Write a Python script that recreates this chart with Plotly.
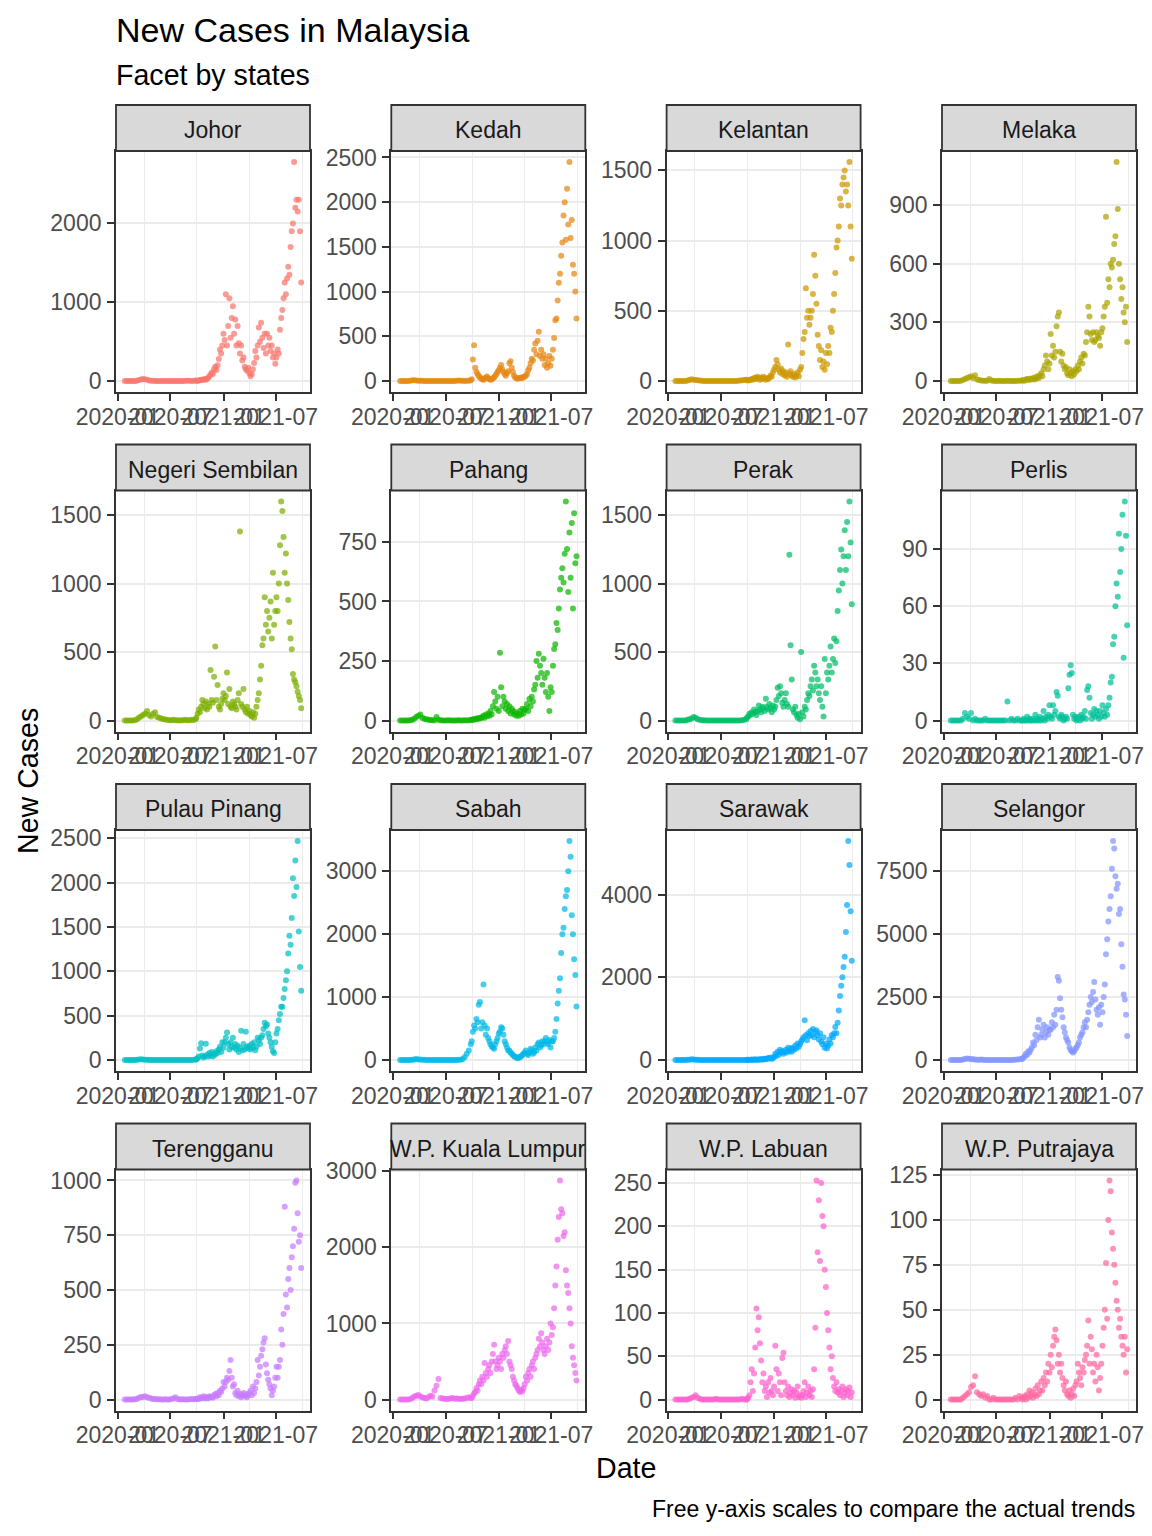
import pandas as pd
import plotly.graph_objects as go

# ---------------- data ----------------
states = ["Johor", "Kedah", "Kelantan", "Melaka",
          "Negeri Sembilan", "Pahang", "Perak", "Perlis",
          "Pulau Pinang", "Sabah", "Sarawak", "Selangor",
          "Terengganu", "W.P. Kuala Lumpur", "W.P. Labuan", "W.P. Putrajaya"]

colors = ["#F8766D", "#E68613", "#CD9600", "#ABA300", "#7CAE00", "#0CB702",
          "#00BE67", "#00C19A", "#00BFC4", "#00B8E7", "#00A9FF", "#8494FF",
          "#C77CFF", "#ED68ED", "#FF61CC", "#FF68A1"]

# sample dates: weekly through Sep 2020, then ~every 4 days to the end
dates_early = pd.date_range("2020-01-25", periods=36, freq="7D")
dates_late = pd.date_range("2020-09-29", "2021-09-27", periods=90)

# each list: 36 weekly values (2020) followed by 90 values (Oct 2020 - Sep 2021)
johor = [0, 0, 1, 0, 0, 2, 5, 12, 20, 25, 22, 15, 8, 5, 3, 2, 1, 1, 0, 0, 1, 0, 0, 1, 0, 2, 1, 0, 1, 2, 3, 5, 3, 2, 5, 8,
         5, 3, 8, 10, 15, 12, 20, 25,
         18, 30, 40, 60, 80, 110, 90, 150,
         180, 140, 200, 280, 400, 350, 450, 600,
         520, 1100, 450, 700, 1050, 550, 800, 950,
         600, 780, 450, 700, 480, 350, 450,
         260, 300, 180, 150, 130, 170, 100,
         60, 90, 150, 230, 380, 300, 450, 680,
         500, 740, 550, 420, 600, 350, 600, 450,
         550, 380, 450, 300, 350, 220, 300,
         400, 350, 650, 800, 900, 1050, 1250, 1100,
         1300, 1450, 1350, 1700, 1900, 2000, 2780, 2200,
         2300, 2150, 2300, 1900, 1250]

kedah = [0, 0, 0, 0, 1, 3, 8, 10, 5, 4, 3, 2, 1, 1, 0, 0, 0, 0, 0, 1, 0, 0, 1, 0, 0, 1, 0, 0, 2, 5, 3, 2, 1, 2, 4, 10,
         20, 240, 400, 150, 100, 80, 60, 40,
         30, 20, 15, 25, 40, 50, 30, 20,
         15, 20, 30, 40, 60, 80, 100, 120,
         150, 180, 130, 100, 80, 60, 90, 110,
         200, 220, 150, 100, 60, 40, 30,
         25, 35, 30, 40, 30, 45, 50,
         60, 80, 120, 150, 200, 250, 230, 350,
         420, 300, 450, 550, 280, 350, 250, 300,
         180, 250, 150, 200, 280, 170, 250,
         350, 480, 680, 700, 900, 1100, 1200, 1400,
         1550, 1850, 2000, 1580, 2150, 1750, 2450, 1600,
         1800, 1300, 1200, 1000, 700]

kelantan = [0, 0, 0, 0, 0, 1, 3, 8, 12, 10, 8, 5, 3, 2, 1, 1, 0, 0, 0, 1, 0, 0, 0, 1, 0, 0, 0, 0, 1, 0, 0, 2, 3, 5, 8, 10,
            5, 3, 8, 10, 15, 10, 20, 25,
            15, 30, 20, 10, 25, 15, 30, 20,
            10, 20, 15, 25, 40, 30, 60, 80,
            100, 150, 120, 80, 60, 90, 50, 70,
            40, 60, 30, 260, 50, 70, 40,
            30, 50, 25, 40, 60, 35, 80,
            100, 200, 300, 350, 660, 450, 500, 400,
            450, 500, 620, 900, 750, 550, 330, 250,
            150, 220, 100, 140, 80, 200, 120,
            250, 200, 380, 350, 500, 620, 770, 950,
            1000, 1100, 1300, 1250, 1400, 1450, 1500, 1350,
            1400, 1250, 1560, 1100, 870]

melaka = [0, 0, 0, 0, 0, 2, 5, 10, 15, 20, 25, 15, 30, 8, 5, 3, 2, 2, 1, 10, 3, 1, 0, 0, 1, 0, 0, 0, 1, 0, 0, 0, 0, 1, 2, 3,
          3, 5, 2, 8, 10, 5, 12, 8,
          10, 15, 8, 20, 12, 25, 15, 30,
          40, 25, 60, 80, 130, 100, 60, 90,
          240, 130, 180, 120, 150, 280, 330, 350,
          150, 100, 140, 80, 60, 70, 40,
          30, 60, 40, 25, 50, 35, 60,
          50, 80, 60, 100, 120, 90, 140, 130,
          200, 250, 380, 330, 240, 210, 250, 200,
          210, 250, 230, 220, 180, 250, 270,
          330, 380, 840, 400, 520, 480, 600, 580,
          620, 700, 740, 1120, 880, 600, 520, 420,
          480, 350, 300, 380, 200]

negeri_sembilan = [0, 0, 0, 0, 1, 3, 10, 20, 30, 40, 50, 70, 40, 30, 50, 60, 25, 20, 15, 10, 8, 5, 3, 2, 5, 3, 2, 1, 2, 3, 5, 3, 2, 5, 4, 10,
                   20, 50, 80, 60, 100, 150, 120, 90,
                   140, 80, 120, 100, 370, 150, 130, 320,
                   540, 150, 260, 100, 80, 120, 160, 200,
                   150, 180, 350, 120, 230, 100, 90, 140,
                   120, 100, 80, 150, 200, 1380, 120,
                   100, 230, 80, 60, 100, 50, 70,
                   40, 30, 60, 20, 50, 100, 150, 200,
                   300, 400, 550, 600, 900, 700, 800, 650,
                   750, 870, 600, 1080, 700, 800, 900,
                   800, 1000, 1280, 1600, 1530, 1340, 1080, 1220,
                   1000, 880, 720, 600, 520, 340, 300, 280,
                   250, 210, 180, 150, 90]

pahang = [0, 0, 0, 0, 0, 1, 3, 8, 15, 20, 25, 12, 8, 5, 3, 2, 1, 1, 15, 3, 1, 0, 0, 0, 1, 0, 0, 0, 0, 1, 0, 0, 1, 0, 1, 2,
          2, 5, 3, 8, 5, 10, 8, 12,
          10, 15, 20, 12, 25, 18, 30, 20,
          40, 25, 60, 120, 80, 50, 100, 40,
          285, 140, 60, 100, 80, 50, 70, 40,
          60, 30, 50, 40, 25, 35, 20,
          30, 20, 40, 25, 50, 30, 45,
          50, 70, 40, 90, 60, 100, 80, 130,
          150, 250, 180, 280, 230, 200, 150, 260,
          180, 120, 200, 100, 40, 140, 120,
          230, 300, 320, 410, 380, 470, 550, 600,
          640, 580, 700, 920, 720, 540, 790, 600,
          830, 470, 870, 660, 690]

perak = [0, 0, 0, 0, 0, 1, 5, 10, 15, 25, 20, 10, 5, 3, 2, 1, 1, 0, 0, 1, 0, 0, 0, 1, 0, 0, 0, 0, 0, 1, 0, 1, 0, 2, 5, 10,
         20, 30, 50, 40, 60, 50, 80, 60,
         40, 70, 110, 80, 60, 100, 90, 70,
         160, 100, 80, 120, 90, 60, 110, 80,
         100, 150, 240, 180, 250, 200, 130, 100,
         150, 200, 120, 100, 1210, 550, 300,
         80, 60, 100, 40, 20, 50, 10,
         500, 60, 30, 100, 80, 150, 200, 180,
         250, 300, 220, 400, 350, 250, 300, 200,
         150, 250, 100, 30, 450, 200, 350,
         300, 400, 540, 350, 450, 600, 420, 580,
         800, 950, 1100, 1250, 1000, 1200, 1390, 1100,
         1450, 1200, 1600, 1300, 850]

perlis = [0, 0, 0, 0, 0, 0, 1, 4, 2, 1, 4, 0, 1, 0, 0, 0, 0, 1, 0, 0, 0, 0, 0, 0, 0, 0, 0, 0, 10, 0, 1, 0, 0, 1, 0, 0,
          0, 1, 0, 0, 2, 0, 1, 0,
          0, 1, 0, 3, 0, 1, 0, 2,
          0, 1, 5, 0, 2, 1, 3, 8,
          2, 1, 8, 3, 5, 15, 13, 2,
          1, 3, 2, 0, 1, 2, 1,
          17, 24, 29, 25, 3, 1, 2,
          0, 1, 2, 0, 3, 1, 2, 5,
          1, 16, 18, 12, 4, 1, 3, 6,
          2, 5, 3, 1, 5, 2, 8,
          4, 2, 6, 3, 8, 12, 20, 23,
          40, 44, 60, 72, 65, 98, 78, 90,
          108, 33, 115, 97, 50]

pulau_pinang = [0, 0, 0, 0, 0, 1, 2, 5, 8, 5, 3, 2, 1, 1, 0, 0, 0, 0, 0, 0, 0, 0, 0, 0, 0, 0, 0, 0, 0, 0, 0, 0, 1, 0, 2, 5,
                5, 20, 40, 130, 190, 50, 30, 40,
                185, 60, 40, 80, 50, 90, 40, 70,
                60, 100, 80, 120, 150, 90, 200, 140,
                200, 250, 310, 180, 120, 200, 150, 250,
                140, 180, 120, 160, 90, 140, 330,
                110, 180, 120, 320, 150, 130, 160,
                120, 180, 140, 200, 110, 150, 250, 220,
                180, 250, 280, 350, 420, 380, 400, 300,
                250, 200, 150, 100, 80, 200, 300,
                350, 450, 520, 600, 600, 700, 800, 900,
                1000, 1200, 1400, 1300, 1600, 2050, 1850, 2250,
                1950, 2470, 1450, 1050, 780]

sabah = [0, 0, 0, 0, 0, 1, 5, 10, 15, 10, 8, 5, 3, 2, 1, 1, 1, 0, 0, 1, 0, 0, 1, 2, 1, 0, 0, 1, 2, 3, 5, 15, 50, 100, 150, 250,
         300, 450, 550, 500, 650, 600, 880, 920,
         500, 600, 1200, 550, 400, 500, 350, 300,
         250, 220, 200, 180, 250, 300, 350, 420,
         450, 520, 500, 400, 300, 250, 200, 150,
         150, 120, 100, 80, 60, 50, 40,
         30, 50, 40, 60, 80, 100, 120,
         150, 100, 80, 120, 180, 150, 100, 120,
         200, 150, 250, 280, 200, 230, 300, 250,
         300, 350, 280, 250, 320, 200, 300,
         300, 350, 450, 650, 900, 1100, 1300, 1700,
         2000, 2100, 2400, 2600, 2700, 3000, 3480, 3230,
         2300, 2000, 1600, 1350, 850]

sarawak = [0, 0, 0, 0, 0, 2, 5, 10, 20, 15, 10, 5, 3, 2, 1, 1, 0, 0, 0, 0, 0, 0, 0, 0, 0, 0, 1, 0, 0, 0, 0, 0, 1, 0, 1, 2,
           5, 10, 3, 8, 15, 5, 10, 20,
           10, 5, 15, 20, 10, 25, 15, 30,
           20, 30, 50, 40, 60, 30, 45, 80,
           150, 100, 200, 130, 250, 180, 220, 150,
           200, 250, 180, 300, 220, 280, 200,
           300, 250, 350, 280, 400, 320, 380,
           450, 500, 550, 960, 600, 480, 650, 580,
           700, 600, 750, 550, 680, 720, 600, 500,
           650, 450, 380, 550, 300, 400, 280,
           350, 500, 400, 600, 550, 650, 800, 650,
           900, 1200, 1550, 1800, 2000, 2250, 2500, 3100,
           3750, 5300, 4720, 3600, 2400]

selangor = [0, 0, 0, 0, 0, 5, 20, 40, 60, 50, 40, 30, 20, 15, 10, 20, 10, 5, 5, 3, 3, 2, 3, 2, 2, 3, 5, 3, 5, 3, 5, 10, 15, 20, 30, 40,
            50, 100, 150, 250, 200, 350, 300, 400,
            500, 700, 600, 1000, 800, 1300, 1600, 900,
            1000, 1200, 1400, 900, 1100, 1300, 1000, 1200,
            1200, 1500, 1300, 1800, 1400, 2000, 3300, 3150,
            2450, 2000, 1700, 1300, 1100, 900, 800,
            700, 500, 400, 350, 300, 350, 450,
            500, 600, 700, 900, 1000, 1100, 1300, 1500,
            1300, 1600, 1900, 2200, 2500, 2300, 2700, 3100,
            2400, 2000, 1800, 2100, 1400, 2200, 1900,
            2500, 3000, 4200, 4800, 5500, 6000, 6500, 7600,
            8700, 8400, 7300, 6800, 7000, 5800, 6000, 4600,
            3700, 2600, 2400, 1800, 950]

terengganu = [0, 0, 0, 0, 0, 1, 3, 8, 12, 12, 15, 10, 8, 5, 3, 2, 1, 1, 0, 0, 1, 0, 0, 2, 5, 10, 3, 1, 0, 1, 0, 0, 1, 2, 1, 3,
              2, 5, 3, 10, 5, 8, 15, 5,
              10, 8, 5, 15, 10, 12, 8, 20,
              25, 15, 30, 20, 40, 35, 50, 80,
              60, 80, 100, 90, 130, 180, 100, 60,
              70, 30, 20, 40, 15, 25, 10,
              20, 30, 15, 25, 10, 20, 30,
              40, 20, 60, 30, 50, 80, 180, 110,
              150, 200, 230, 260, 280, 160, 120, 90,
              70, 50, 20, 40, 60, 100, 150,
              100, 150, 180, 320, 250, 390, 880, 480,
              420, 550, 600, 500, 650, 700, 780, 990,
              1000, 850, 720, 750, 600]

kuala_lumpur = [0, 0, 0, 0, 1, 5, 20, 40, 50, 60, 40, 30, 20, 15, 30, 50, 40, 120, 180, 270, 20, 15, 10, 8, 10, 15, 20, 10, 15, 10, 8, 12, 15, 20, 30, 20,
                20, 50, 80, 100, 150, 120, 200, 250,
                200, 300, 250, 480, 350, 300, 400, 450,
                350, 500, 600, 720, 500, 400, 450, 550,
                500, 400, 600, 550, 650, 700, 600, 770,
                500, 450, 400, 300, 250, 200, 180,
                150, 120, 100, 130, 110, 150, 200,
                300, 250, 350, 400, 300, 450, 500, 400,
                550, 600, 650, 800, 700, 870, 750, 650,
                600, 700, 800, 650, 750, 1000, 850,
                950, 1200, 1500, 1750, 2100, 2400, 2880, 2500,
                2450, 2150, 2200, 1700, 1500, 1400, 1200, 1000,
                700, 550, 450, 350, 250]

labuan = [0, 0, 0, 0, 0, 0, 0, 1, 2, 3, 5, 2, 1, 0, 0, 0, 0, 0, 0, 0, 1, 0, 0, 0, 0, 0, 0, 0, 0, 0, 0, 0, 0, 1, 0, 0,
          0, 2, 5, 20, 35, 10, 30, 60,
          105, 80, 95, 65, 45, 20, 30, 10,
          15, 3, 20, 8, 25, 10, 5, 15,
          62, 35, 10, 30, 20, 5, 48, 54,
          20, 10, 5, 15, 3, 8, 12,
          5, 10, 2, 8, 15, 3, 5,
          2, 5, 10, 20, 3, 8, 15, 5,
          10, 3, 12, 35, 83, 253, 170, 230,
          160, 250, 212, 200, 150, 130, 100,
          80, 60, 35, 50, 25, 15, 10, 20,
          8, 12, 5, 10, 15, 3, 8, 12,
          5, 10, 14, 3, 8]

putrajaya = [0, 0, 0, 0, 0, 0, 1, 2, 3, 4, 7, 8, 13, 4, 3, 2, 3, 1, 2, 0, 0, 1, 0, 0, 0, 0, 0, 0, 0, 0, 0, 0, 1, 0, 2, 1,
             0, 1, 2, 0, 3, 1, 5, 2,
             4, 1, 3, 6, 2, 8, 3, 5,
             10, 5, 12, 8, 15, 10, 20, 15,
             25, 18, 30, 35, 39, 33, 20, 25,
             15, 20, 12, 8, 5, 10, 3,
             2, 5, 1, 3, 6, 2, 8,
             10, 20, 15, 12, 8, 18, 15, 22,
             25, 30, 44, 20, 35, 28, 15, 20,
             10, 25, 18, 5, 12, 20, 30,
             40, 50, 76, 45, 100, 122, 116, 93,
             84, 75, 65, 55, 50, 40, 45, 35,
             30, 25, 35, 15, 28]

series = [johor, kedah, kelantan, melaka, negeri_sembilan, pahang, perak, perlis,
          pulau_pinang, sabah, sarawak, selangor, terengganu, kuala_lumpur, labuan, putrajaya]

y_breaks = [[0, 1000, 2000], [0, 500, 1000, 1500, 2000, 2500], [0, 500, 1000, 1500],
            [0, 300, 600, 900], [0, 500, 1000, 1500], [0, 250, 500, 750],
            [0, 500, 1000, 1500], [0, 30, 60, 90], [0, 500, 1000, 1500, 2000, 2500],
            [0, 1000, 2000, 3000], [0, 2000, 4000], [0, 2500, 5000, 7500],
            [0, 250, 500, 750, 1000], [0, 1000, 2000, 3000], [0, 50, 100, 150, 200, 250],
            [0, 25, 50, 75, 100, 125]]

x_breaks = ["2020-01-01", "2020-07-01", "2021-01-01", "2021-07-01"]
x_labels = ["2020-01", "2020-07", "2021-01", "2021-07"]
x_minor = ["2020-04-01", "2020-10-01", "2021-04-01", "2021-10-01"]

# ---------------- figure ----------------
W, H = 1152, 1536
FONT = "Liberation Sans, Arial, sans-serif"
col_left = [116, 391.3, 666.6, 942]
row_top = [151, 490.5, 830, 1169.5]
PW, PH, SH = 194, 241, 46

dates = list(dates_early) + list(dates_late)
start, end = dates[0], dates[-1]
pad = (end - start) * 0.05
x_range = [str(start - pad), str(end + pad)]

fig = go.Figure()
shapes, annotations = [], []
axis_font = dict(family=FONT, size=23, color="#4D4D4D")

for i, (name, vals, col) in enumerate(zip(states, series, colors)):
    assert len(vals) == len(dates), (name, len(vals))
    n = i + 1
    r, c = divmod(i, 4)
    left, top = col_left[c], row_top[r]
    fig.add_trace(go.Scatter(
        x=dates, y=vals, mode="markers", xaxis=f"x{n}", yaxis=f"y{n}",
        marker=dict(color=col, size=6, opacity=0.72, line=dict(width=0)),
        showlegend=False, hoverinfo="skip"))
    ymax = max(vals)
    common = dict(showline=True, mirror=True, linecolor="#333333", linewidth=1.8,
                  ticks="outside", ticklen=7, tickwidth=1.5, tickcolor="#333333",
                  zeroline=False, tickfont=axis_font, automargin=False)
    fig.layout[f"xaxis{n}"] = dict(
        domain=[left / W, (left + PW) / W], anchor=f"y{n}", type="date",
        range=x_range, tickmode="array", tickvals=x_breaks, ticktext=x_labels,
        tickangle=0, showgrid=False, ticklabelstandoff=-4,
        minor=dict(tickmode="array", tickvals=x_minor, showgrid=True,
                   gridcolor="#EBEBEB", gridwidth=1.2, ticks=""),
        **common)
    fig.layout[f"yaxis{n}"] = dict(
        domain=[1 - (top + PH) / H, 1 - top / H], anchor=f"x{n}",
        range=[-0.05 * ymax, 1.05 * ymax], tickmode="array",
        tickvals=y_breaks[i], ticktext=[str(v) for v in y_breaks[i]],
        showgrid=True, gridcolor="#EBEBEB", gridwidth=2, ticklabelstandoff=1,
        **common)
    shapes.append(dict(type="rect", xref="paper", yref="paper",
                       x0=left / W, x1=(left + PW) / W,
                       y0=1 - top / H, y1=1 - (top - SH) / H,
                       fillcolor="#D9D9D9", line=dict(color="#333333", width=1.8)))
    annotations.append(dict(text=name, xref="paper", yref="paper",
                            x=(left + PW / 2) / W, y=1 - (top - SH / 2 + 2) / H,
                            xanchor="center", yanchor="middle", showarrow=False,
                            font=dict(family=FONT, size=23, color="#1A1A1A")))

def txt(text, x, y, size, xanchor="left", angle=0):
    return dict(text=text, xref="paper", yref="paper", x=x / W, y=1 - y / H,
                xanchor=xanchor, yanchor="middle", showarrow=False, textangle=angle,
                font=dict(family=FONT, size=size, color="#000000"))

annotations += [
    txt("New Cases in Malaysia", 114, 30, 34),
    txt("Facet by states", 114, 75, 28.6),
    txt("New Cases", 28, 781, 28.6, xanchor="center", angle=-90),
    txt("Date", 626, 1468, 28.6, xanchor="center"),
    txt("Free y-axis scales to compare the actual trends", 1137, 1509, 23, xanchor="right"),
]

fig.update_layout(width=W, height=H, margin=dict(l=0, r=0, t=0, b=0, pad=0),
                  paper_bgcolor="white", plot_bgcolor="white",
                  shapes=shapes, annotations=annotations,
                  font=dict(family=FONT))

fig.write_html("out.html", config={"displayModeBar": False},
               post_script="document.body.style.margin='0px';document.body.style.overflow='hidden';")
